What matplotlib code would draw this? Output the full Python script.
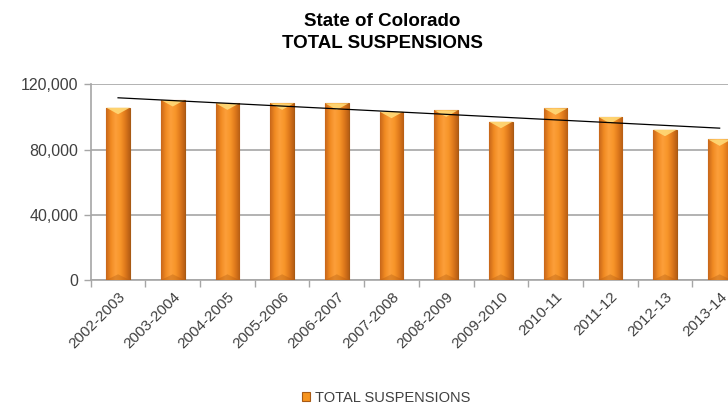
import numpy as np
import matplotlib
matplotlib.use("Agg")
import matplotlib.pyplot as plt
from matplotlib.colors import LinearSegmentedColormap
from matplotlib.patches import Polygon

plt.rcParams['font.family'] = ['Liberation Sans', 'DejaVu Sans']

# data
years = ["2002-2003", "2003-2004", "2004-2005", "2005-2006", "2006-2007", "2007-2008",
         "2008-2009", "2009-2010", "2010-11", "2011-12", "2012-13", "2013-14"]
suspensions = [105650, 110370, 108330, 108330, 108330, 103200,
               104050, 97070, 105270, 99950, 92170, 86260]
yticks = [0, 40000, 80000, 120000]

txt = "#404040"
grid = "#A6A6A6"

fig = plt.figure(figsize=(7.28, 4.09), dpi=100)
ax = fig.add_axes([0.1246, 0.3154, 0.9015, 0.4785])

x = np.arange(len(years))
bars = ax.bar(x, suspensions, width=0.43, color="#F7941E", edgecolor="#A85A14",
              linewidth=0.8, zorder=3, label="TOTAL SUSPENSIONS")

# shaded look of the bars
cmap = LinearSegmentedColormap.from_list("bar", ["#C8671A", "#F08A22", "#FC9F3A", "#F8962A", "#E07A1C", "#B85E14"])
grad = np.linspace(0, 1, 64).reshape(1, -1)
for b in bars:
    x0, w, h = b.get_x(), b.get_width(), b.get_height()
    im = ax.imshow(grad, cmap=cmap, aspect="auto", extent=(x0, x0 + w, 0, h), zorder=3.5)
    im.set_clip_path(b)
    tri = Polygon([[x0, h], [x0 + w, h], [x0 + w * 0.5, h - 4000]], closed=True,
                  facecolor="#FFDA78", edgecolor="none", alpha=0.9, zorder=4)
    ax.add_patch(tri)
    bot = Polygon([[x0, 0], [x0 + w, 0], [x0 + w * 0.5, 3500]], closed=True,
                  facecolor="#B05A10", edgecolor="none", alpha=0.35, zorder=4)
    ax.add_patch(bot)

# linear trendline
k, c = np.polyfit(x, suspensions, 1)
ax.plot(x, k * x + c, color="black", linewidth=0.9, zorder=5)

ax.set_xlim(-0.5, len(years) - 0.5)
ax.set_ylim(0, 120000)
ax.set_yticks(yticks)
ax.set_yticklabels([f"{v:,}" for v in yticks], color=txt, fontsize=11.5)
ax.yaxis.grid(True, color=grid, linewidth=1.2, zorder=0)
ax.set_axisbelow(True)

ax.set_xticks(x)
ax.set_xticklabels(years, rotation=45, ha="right", rotation_mode="anchor", color=txt, fontsize=11)
ax.set_xticks(np.arange(len(years) + 1) - 0.5, minor=True)
ax.tick_params(axis="x", which="major", length=0, pad=7)
ax.tick_params(axis="x", which="minor", length=5, color=grid, width=1)
ax.tick_params(axis="y", length=5, color=grid, width=1, pad=4)

for s in ["top", "right"]:
    ax.spines[s].set_visible(False)
ax.spines["left"].set_color(grid)
ax.spines["bottom"].set_color(grid)
ax.spines["left"].set_linewidth(1.2)
ax.spines["bottom"].set_linewidth(1.2)

fig.text(0.525, 0.968, "State of Colorado\nTOTAL SUSPENSIONS", ha="center", va="top",
         fontsize=13.5, fontweight="bold", color="black", linespacing=1.4)

fig.legend(handles=[bars], labels=["TOTAL SUSPENSIONS"], loc="center", bbox_to_anchor=(0.53, 0.028),
           frameon=False, fontsize=10.5, labelcolor=txt, handlelength=0.6, handleheight=0.6,
           handletextpad=0.3)

fig.savefig("out.png", dpi=100)
